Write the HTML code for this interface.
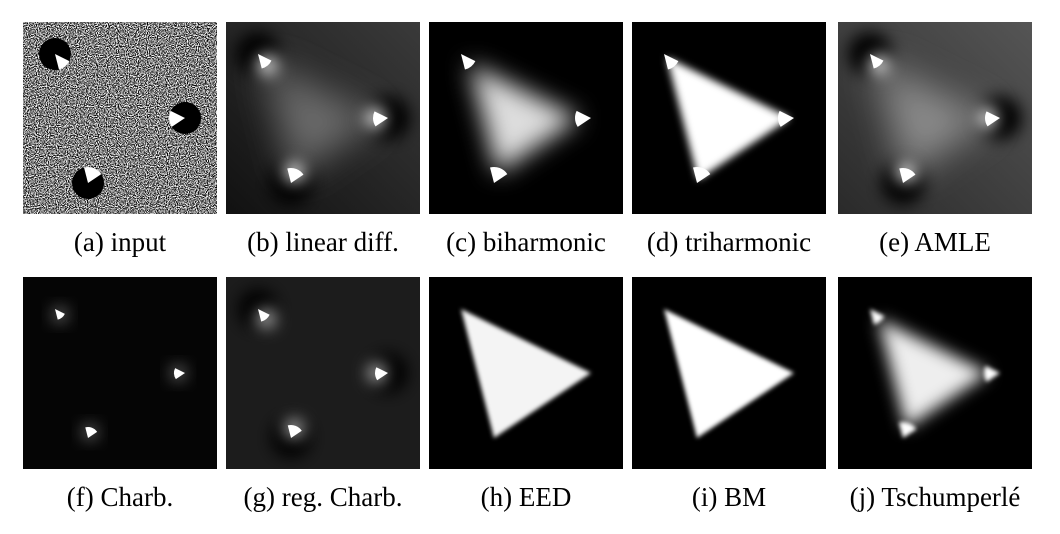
<!DOCTYPE html>
<html><head><meta charset="utf-8"><style>
body{margin:0;background:#fff;width:1060px;height:534px;overflow:hidden}
svg{position:absolute;left:0;top:0}
text{font-family:"Liberation Serif",serif;font-size:27px;fill:#000}
</style></head><body>
<svg id="s" width="1060" height="534">
<defs>
<filter id="n2" x="0" y="0" width="100%" height="100%" color-interpolation-filters="sRGB"><feTurbulence type="fractalNoise" baseFrequency="0.9" numOctaves="1" seed="5"/><feColorMatrix type="matrix" values="3.5 0 0 0 -1.25  3.5 0 0 0 -1.25  3.5 0 0 0 -1.25  0 0 0 0 1"/></filter>
<filter id="b2" x="-50%" y="-50%" width="200%" height="200%"><feGaussianBlur stdDeviation="2"/></filter>
<filter id="b4" x="-50%" y="-50%" width="200%" height="200%"><feGaussianBlur stdDeviation="4"/></filter>
<filter id="b8" x="-100%" y="-100%" width="300%" height="300%"><feGaussianBlur stdDeviation="8"/></filter>
<filter id="b12" x="-50%" y="-50%" width="200%" height="200%"><feGaussianBlur stdDeviation="12"/></filter>
<filter id="b18" x="-50%" y="-50%" width="200%" height="200%"><feGaussianBlur stdDeviation="18"/></filter>
<linearGradient id="bg1" x1="0" y1="1" x2="1" y2="0"><stop offset="0" stop-color="#111"/><stop offset="1" stop-color="#3a3a3a"/></linearGradient>
<linearGradient id="bg4" x1="0" y1="1" x2="1" y2="0"><stop offset="0" stop-color="#2a2a2a"/><stop offset="1" stop-color="#555"/></linearGradient>
</defs>
</svg>
<script>
const panelX=[23,226,429,632,838];
const panelY=[22,277];
const captions=["(a) input","(b) linear diff.","(c) biharmonic","(d) triharmonic","(e) AMLE","(f) Charb.","(g) reg. Charb.","(h) EED","(i) BM","(j) Tschumperlé"];
const V=[[32,32],[162,96],[65,161]];
const W=194,H=192;
const s=document.getElementById('s');
const NS='http://www.w3.org/2000/svg';
function el(t,a,p){const e=document.createElementNS(NS,t);for(const k in a)e.setAttribute(k,a[k]);(p||s).appendChild(e);return e;}
function wedge(i,r){const v=V[i],a=V[(i+1)%3],b=V[(i+2)%3];
 const ang=p=>Math.atan2(p[1]-v[1],p[0]-v[0]);
 const p1=[v[0]+r*Math.cos(ang(a)),v[1]+r*Math.sin(ang(a))],p2=[v[0]+r*Math.cos(ang(b)),v[1]+r*Math.sin(ang(b))];
 const cr=(a[0]-v[0])*(b[1]-v[1])-(a[1]-v[1])*(b[0]-v[0]);
 const sw=cr>0?1:0;
 return `M${v[0]},${v[1]}L${p1[0]},${p1[1]}A${r},${r} 0 0 ${sw} ${p2[0]},${p2[1]}Z`;}
function tri(sc){const c=[(V[0][0]+V[1][0]+V[2][0])/3,(V[0][1]+V[1][1]+V[2][1])/3];return V.map(p=>[(c[0]+(p[0]-c[0])*sc),(c[1]+(p[1]-c[1])*sc)].join(',')).join(' ');}
function inward(i,f){const v=V[i],a=V[(i+1)%3],b=V[(i+2)%3];return [v[0]+(a[0]+b[0]-2*v[0])*f,v[1]+(a[1]+b[1]-2*v[1])*f];}
function panel(k){
 const g=el('g',{transform:`translate(${panelX[k%5]},${panelY[Math.floor(k/5)]})`});
 
 
 el('clipPath',{id:'c'+k},g);el('rect',{width:W,height:H},g.lastChild);
 const q=el('g',{'clip-path':`url(#c${k})`},g);
 const R=(f,extra)=>el('rect',Object.assign({width:W,height:H,fill:f},extra||{}),q);
 const wedges=(r,f)=>{for(let i=0;i<3;i++)el('path',{d:wedge(i,r),fill:'#fff',filter:f||''},q);};
 const discs=(r,f,c)=>{for(let i=0;i<3;i++)el('circle',{cx:V[i][0],cy:V[i][1],r:r,fill:c||'#000',filter:f||''},q);};
 const glows=(fr,r,c)=>{for(let i=0;i<3;i++){const p=inward(i,fr);el('circle',{cx:p[0],cy:p[1],r:r,fill:c,filter:'url(#b8)'},q);}};
 switch(k){
 case 0:R('#000',{filter:'url(#n2)'});discs(16);wedges(16);break;
 case 1:case 4:{R(k==1?'url(#bg1)':'url(#bg4)');
  el('polygon',{points:tri(0.9),fill:k==1?'#6a6a6a':'#8a8a8a',filter:'url(#b18)'},q);
  discs(22,'url(#b8)');glows(0.06,11,'#ddd');
  wedges(15);break;}
 case 2:R('#000');el('polygon',{points:tri(0.85),fill:'#ddd',filter:'url(#b12)'},q);wedges(16);break;
 case 3:R('#000');el('polygon',{points:tri(0.95),fill:'#fff',filter:'url(#b4)'},q);wedges(16);break;
 case 5:R('#050505');glows(0.03,6,'#aaa');wedges(11);break;
 case 6:R('#1c1c1c');discs(20,'url(#b8)');glows(0.05,9,'#ccc');wedges(13);break;
 case 7:R('#000');el('polygon',{points:tri(1),fill:'#f4f4f4',filter:'url(#b2)'},q);break;
 case 8:R('#000');el('polygon',{points:tri(1),fill:'#fff',filter:'url(#b2)'},q);break;
 case 9:R('#000');el('polygon',{points:tri(0.85),fill:'#eee',filter:'url(#b8)'},q);el('path',{d:wedge(0,16)+wedge(1,16)+wedge(2,16),fill:'#fff',filter:'url(#b2)'},q);break;
 }
 const t=el('text',{x:panelX[k%5]+W/2,y:panelY[Math.floor(k/5)]+229,'text-anchor':'middle'});
 t.textContent=captions[k];
 
 
}
for(let k=0;k<10;k++)panel(k);
</script>
</body></html>
